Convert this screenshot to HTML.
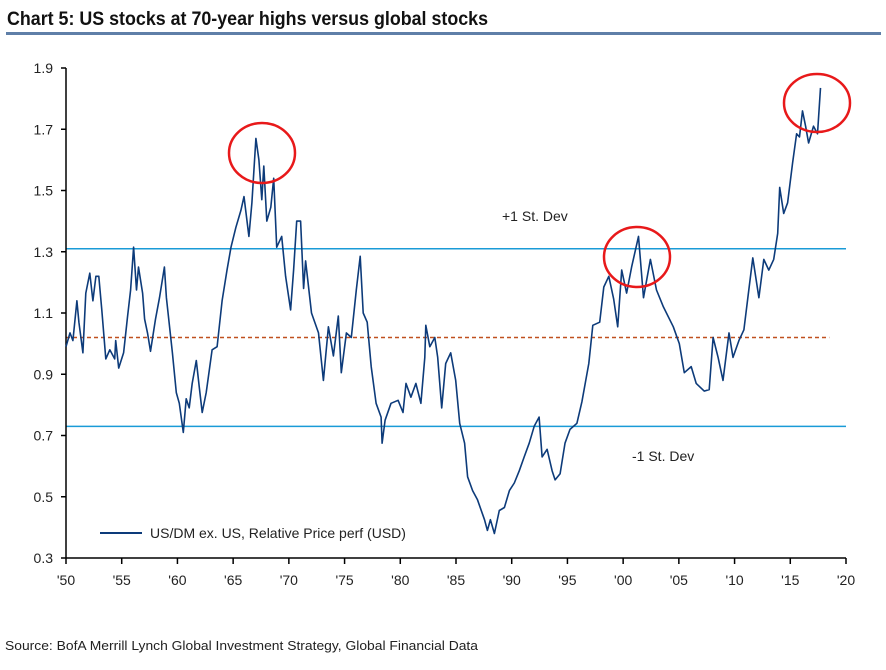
<!DOCTYPE html>
<html><head><meta charset="utf-8"><style>
body{margin:0;background:#fff;width:886px;height:665px;overflow:hidden;font-family:"Liberation Sans",sans-serif}
</style></head><body>
<svg width="886" height="665" xmlns="http://www.w3.org/2000/svg">
<text x="7" y="25" font-family="'Liberation Sans',sans-serif" font-weight="bold" font-size="19" fill="#111" textLength="481" lengthAdjust="spacingAndGlyphs">Chart 5: US stocks at 70-year highs versus global stocks</text>
<rect x="6" y="32" width="875" height="3" fill="#5f7fa8"/>
<g id="axes"></g>
<g id="series"></g>
<text x="502" y="221" font-family="'Liberation Sans',sans-serif" font-size="14" fill="#222">+1 St. Dev</text>
<text x="632" y="461" font-family="'Liberation Sans',sans-serif" font-size="14" fill="#222">-1 St. Dev</text>
<line x1="100" y1="533" x2="142" y2="533" stroke="#0d3b7a" stroke-width="2"/>
<text x="150" y="538" font-family="'Liberation Sans',sans-serif" font-size="14" fill="#222">US/DM ex. US, Relative Price perf (USD)</text>
<ellipse cx="262" cy="153" rx="33" ry="30" fill="none" stroke="#e8191a" stroke-width="2.5"/>
<ellipse cx="637" cy="257" rx="33" ry="30" fill="none" stroke="#e8191a" stroke-width="2.5"/>
<ellipse cx="817" cy="103" rx="33" ry="29" fill="none" stroke="#e8191a" stroke-width="2.5"/>
<text x="5" y="650" font-family="'Liberation Sans',sans-serif" font-size="13" fill="#222" textLength="473" lengthAdjust="spacingAndGlyphs">Source:  BofA Merrill Lynch Global Investment Strategy, Global Financial Data</text>
</svg>
<script>
const years=[1950.0,1950.36,1950.62,1950.98,1951.16,1951.52,1951.78,1952.14,1952.41,1952.68,1952.94,1953.21,1953.57,1953.93,1954.37,1954.46,1954.73,1955.17,1955.53,1955.80,1956.07,1956.33,1956.51,1956.87,1957.05,1957.31,1957.58,1958.03,1958.39,1958.83,1959.01,1959.55,1959.90,1960.17,1960.53,1960.79,1961.06,1961.33,1961.69,1961.95,1962.22,1962.58,1963.11,1963.56,1964.01,1964.45,1964.81,1965.25,1965.70,1965.97,1966.41,1966.68,1967.04,1967.31,1967.57,1967.75,1968.02,1968.38,1968.64,1968.91,1969.36,1969.71,1970.16,1970.43,1970.70,1971.05,1971.32,1971.50,1972.03,1972.66,1973.10,1973.55,1974.00,1974.44,1974.71,1975.16,1975.60,1976.05,1976.40,1976.67,1977.03,1977.39,1977.83,1978.28,1978.37,1978.64,1979.17,1979.80,1980.24,1980.51,1980.95,1981.40,1981.85,1982.20,1982.29,1982.65,1983.10,1983.36,1983.72,1984.08,1984.52,1984.97,1985.33,1985.77,1986.04,1986.49,1986.93,1987.56,1987.82,1988.09,1988.45,1988.89,1989.34,1989.79,1990.23,1990.68,1991.12,1991.57,1992.02,1992.46,1992.73,1993.18,1993.62,1993.89,1994.34,1994.78,1995.23,1995.85,1996.30,1996.92,1997.28,1997.90,1998.26,1998.71,1999.15,1999.51,1999.87,2000.31,2000.76,2001.38,2001.83,2002.45,2002.99,2003.61,2004.50,2005.04,2005.49,2006.11,2006.56,2007.27,2007.72,2008.07,2008.52,2008.96,2009.50,2009.86,2010.39,2010.84,2011.28,2011.64,2012.18,2012.62,2013.07,2013.51,2013.87,2014.05,2014.41,2014.76,2015.21,2015.57,2015.83,2016.10,2016.37,2016.64,2017.08,2017.44,2017.71];
const ratio=[0.99,1.035,1.01,1.14,1.07,0.97,1.165,1.23,1.14,1.22,1.22,1.11,0.95,0.98,0.95,1.01,0.92,0.97,1.09,1.175,1.315,1.175,1.25,1.165,1.08,1.035,0.975,1.08,1.15,1.25,1.15,0.97,0.84,0.805,0.71,0.82,0.79,0.87,0.945,0.86,0.775,0.84,0.98,0.99,1.14,1.24,1.315,1.38,1.435,1.48,1.35,1.46,1.67,1.60,1.47,1.58,1.40,1.445,1.54,1.315,1.35,1.22,1.11,1.24,1.40,1.40,1.18,1.27,1.10,1.035,0.88,1.055,0.96,1.09,0.905,1.035,1.02,1.175,1.285,1.10,1.07,0.925,0.805,0.76,0.675,0.75,0.805,0.815,0.775,0.87,0.825,0.87,0.805,0.955,1.06,0.99,1.02,0.955,0.79,0.935,0.97,0.88,0.74,0.675,0.565,0.52,0.49,0.425,0.39,0.425,0.38,0.455,0.465,0.52,0.545,0.585,0.63,0.675,0.73,0.76,0.63,0.655,0.585,0.555,0.575,0.675,0.72,0.74,0.81,0.935,1.06,1.07,1.185,1.22,1.145,1.055,1.24,1.165,1.25,1.35,1.15,1.275,1.175,1.12,1.055,1.00,0.905,0.925,0.87,0.845,0.85,1.02,0.955,0.88,1.035,0.955,1.01,1.045,1.175,1.28,1.15,1.275,1.24,1.275,1.36,1.51,1.425,1.46,1.59,1.685,1.675,1.76,1.71,1.655,1.71,1.685,1.835];
const yTicks=[0.3,0.5,0.7,0.9,1.1,1.3,1.5,1.7,1.9];
const xTickYears=[1950,1955,1960,1965,1970,1975,1980,1985,1990,1995,2000,2005,2010,2015,2020];
const xTickLabels=["'50","'55","'60","'65","'70","'75","'80","'85","'90","'95","'00","'05","'10","'15","'20"];
const refLevels=[1.31,0.73];
const meanLevel=1.02;

const NS="http://www.w3.org/2000/svg";
const X0=66,X1=846,Y0=558,Y1=68;
const xs=y=>X0+(y-1950)/70*(X1-X0);
const ys=v=>Y0-(v-0.3)/1.6*(Y0-Y1);
function mk(tag,attrs,parent){const e=document.createElementNS(NS,tag);for(const k in attrs)e.setAttribute(k,attrs[k]);parent.appendChild(e);return e;}
const axes=document.getElementById('axes'),ser=document.getElementById('series');
refLevels.forEach((v,i)=>{const l=mk('line',{x1:X0,x2:X1,y1:ys(v),y2:ys(v),stroke:'#1a9bd7','stroke-width':1.5},axes);

});
const m=mk('line',{x1:X0,x2:xs(2018.5),y1:ys(meanLevel),y2:ys(meanLevel),stroke:'#c0501f','stroke-width':1.5,'stroke-dasharray':'4,3'},axes);


const ya=mk('line',{x1:X0,x2:X0,y1:Y1,y2:Y0,stroke:'#000','stroke-width':1.5},axes);


const xa=mk('line',{x1:X0,x2:X1,y1:Y0,y2:Y0,stroke:'#000','stroke-width':1.5},axes);


yTicks.forEach(v=>{mk('line',{x1:X0-5,x2:X0,y1:ys(v),y2:ys(v),stroke:'#000','stroke-width':1.5},axes);
const t=mk('text',{x:X0-13,y:ys(v)+5,'text-anchor':'end','font-size':14,fill:'#222','font-family':"'Liberation Sans',sans-serif"},axes);t.textContent=v.toFixed(1);

});
xTickYears.forEach((yr,i)=>{mk('line',{x1:xs(yr),x2:xs(yr),y1:Y0,y2:Y0+6,stroke:'#000','stroke-width':1.5},axes);
const t=mk('text',{x:xs(yr),y:Y0+27,'text-anchor':'middle','font-size':14,fill:'#222','font-family':"'Liberation Sans',sans-serif"},axes);t.textContent=xTickLabels[i];

});
const p=mk('path',{d:years.map((y,i)=>(i?'L':'M')+xs(y).toFixed(1)+','+ys(ratio[i]).toFixed(1)).join(''),fill:'none',stroke:'#0d3b7a','stroke-width':1.6,'stroke-linejoin':'round'},ser);


</script>
</body></html>
